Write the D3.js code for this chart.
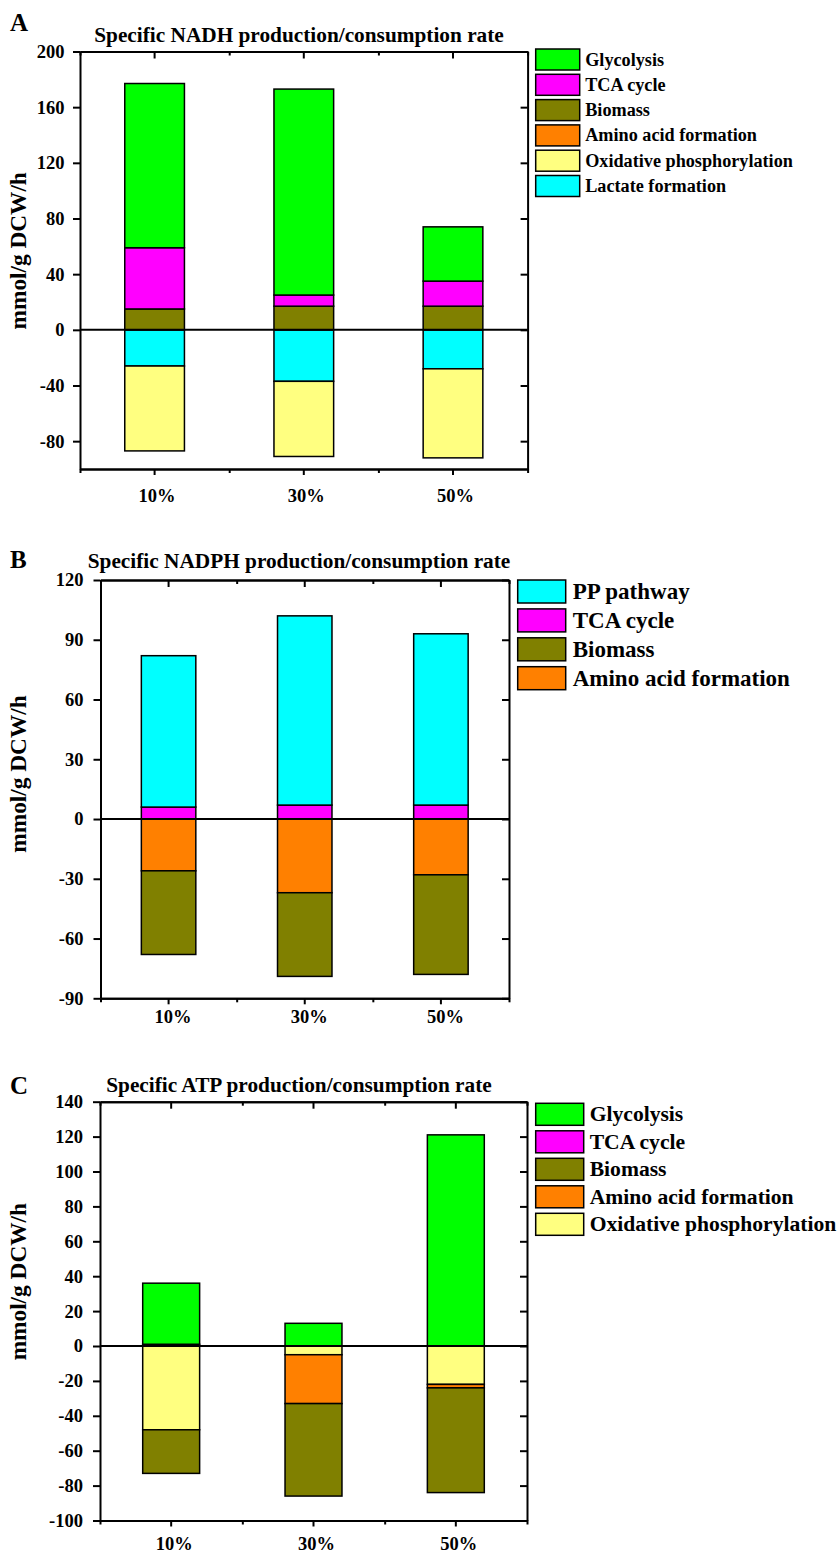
<!DOCTYPE html>
<html>
<head>
<meta charset="utf-8">
<script src="https://cdn.jsdelivr.net/npm/d3@7"></script>
<style>
  body { margin: 0; background: #fff; }
  svg text { font-family: "Liberation Serif", "Times New Roman", serif; font-weight: bold; fill: #000; }
</style>
</head>
<body>
<svg width="839" height="1555"></svg>
<script>
// categories on the x axis
const categories = ["10%", "30%", "50%"];

// Panel A - NADH
const nadhKeys = ["Glycolysis", "TCA cycle", "Biomass", "Amino acid formation", "Oxidative phosphorylation", "Lactate formation"];
const nadhGlycolysis = [118, 148, 39];
const nadhTCA = [44, 8, 18];
const nadhBiomass = [15, 17, 17];
const nadhAmino = [0, 0, 0];
const nadhOxPhos = [-61, -54, -64];
const nadhLactate = [-26, -37, -28];
const nadhTicks = [-80, -40, 0, 40, 80, 120, 160, 200];

// Panel B - NADPH
const nadphKeys = ["PP pathway", "TCA cycle", "Biomass", "Amino acid formation"];
const nadphPP = [76, 95, 86];
const nadphTCA = [6, 7, 7];
const nadphBiomass = [-42, -42, -50];
const nadphAmino = [-26, -37, -28];
const nadphTicks = [-90, -60, -30, 0, 30, 60, 90, 120];

// Panel C - ATP
const atpKeys = ["Glycolysis", "TCA cycle", "Biomass", "Amino acid formation", "Oxidative phosphorylation"];
const atpGlycolysis = [35, 13, 121];
const atpTCA = [1, 0, 0];
const atpBiomass = [-25, -53, -60];
const atpAmino = [0, -28, -2];
const atpOxPhos = [-48, -5, -22];
const atpTicks = [-100, -80, -60, -40, -20, 0, 20, 40, 60, 80, 100, 120, 140];

const colors = {
  "Glycolysis": "#00ff00",
  "TCA cycle": "#ff00ff",
  "Biomass": "#808000",
  "Amino acid formation": "#ff8000",
  "Oxidative phosphorylation": "#ffff80",
  "Lactate formation": "#00ffff",
  "PP pathway": "#00ffff"
};

let svg = d3.select("svg");

function makeRows(keys, series) {
  return categories.map((c, i) => {
    let row = { cat: c };
    keys.forEach((k, j) => row[k] = series[j][i]);
    return row;
  });
}

function drawPanel(p) {
  let x = d3.scaleBand().domain(categories).range([p.left, p.right]);
  let xb = d3.scaleLinear().domain([0, categories.length]).range([p.left, p.right]);
  let y = d3.scaleLinear().domain(p.yDomain).range([p.bottom, p.top]);

  let g = svg.append("g");

  // stacked bars, last legend entry sits next to zero
  let stack = d3.stack()
    .keys(p.keys.slice().reverse())
    .offset(d3.stackOffsetDiverging);
  let layers = stack(makeRows(p.keys, p.series));

  let barW = x.bandwidth() * 0.4;
  g.selectAll("g.layer")
    .data(layers)
    .enter().append("g")
    .attr("class", "layer")
    .attr("fill", d => colors[d.key])
    .selectAll("rect")
    .data(d => d.filter(s => s[1] !== s[0]))
    .enter().append("rect")
    .attr("x", d => x(d.data.cat) + (x.bandwidth() - barW) / 2)
    .attr("y", d => y(Math.max(d[0], d[1])))
    .attr("width", barW)
    .attr("height", d => Math.abs(y(d[0]) - y(d[1])))
    .attr("stroke", "#000")
    .attr("stroke-width", 1.5);

  // zero line
  g.append("line")
    .attr("x1", p.left).attr("x2", p.right)
    .attr("y1", y(0)).attr("y2", y(0))
    .attr("stroke", "#000").attr("stroke-width", 2);

  // left axis (plain hyphen for negatives)
  let left = g.append("g")
    .attr("transform", "translate(" + p.left + ",0)")
    .call(d3.axisLeft(y).tickValues(p.ticks).tickSize(7).tickSizeOuter(0)
      .tickPadding(p.yPad).tickFormat(d => String(d)));
  left.selectAll("text").style("font-size", "18.5px");

  // right frame with inner ticks
  g.append("g")
    .attr("transform", "translate(" + p.right + ",0)")
    .call(d3.axisLeft(y).tickValues(p.ticks).tickSize(7).tickSizeOuter(0).tickFormat(""));

  // top frame with inner ticks
  g.append("g")
    .attr("transform", "translate(0," + p.top + ")")
    .call(d3.axisBottom(x).tickSize(7).tickSizeOuter(0).tickFormat(""));
  g.append("g")
    .attr("transform", "translate(0," + p.top + ")")
    .call(d3.axisBottom(xb).tickValues([0, 1, 2, 3]).tickSize(4).tickSizeOuter(0).tickFormat(""));

  // bottom axis
  let bottom = g.append("g")
    .attr("transform", "translate(0," + p.bottom + ")")
    .call(d3.axisBottom(x).tickSize(6).tickSizeOuter(0).tickPadding(p.xPad));
  bottom.selectAll("text").style("font-size", "18.5px").attr("dx", p.xShift);
  g.append("g")
    .attr("transform", "translate(0," + p.bottom + ")")
    .call(d3.axisBottom(xb).tickValues([0, 1, 2, 3]).tickSize(4).tickSizeOuter(0).tickFormat(""));

  g.selectAll(".domain").attr("stroke-width", 2);
  g.selectAll(".tick line").attr("stroke-width", 2);

  // titles and labels
  g.append("text")
    .attr("x", 10).attr("y", p.letterY)
    .style("font-size", "25px")
    .text(p.letter);
  g.append("text")
    .attr("x", 299).attr("y", p.titleY)
    .attr("text-anchor", "middle")
    .style("font-size", "21.3px")
    .text(p.title);
  g.append("text")
    .attr("transform", "translate(25.5," + p.labelY + ") rotate(-90)")
    .attr("text-anchor", "middle")
    .style("font-size", "23.3px")
    .text("mmol/g DCW/h");

  // legend
  let lg = g.append("g")
    .selectAll("g")
    .data(p.keys)
    .enter().append("g")
    .attr("transform", (d, i) => "translate(" + p.legX + "," + (p.legY + i * p.legStep) + ")");
  lg.append("rect")
    .attr("width", p.swW).attr("height", p.swH)
    .attr("fill", d => colors[d])
    .attr("stroke", "#000").attr("stroke-width", 1.5);
  lg.append("text")
    .attr("x", p.swW + p.legGap)
    .attr("y", p.swH / 2 + p.legFont * 0.33)
    .style("font-size", p.legFont + "px")
    .text(d => d);
}

drawPanel({
  letter: "A", title: "Specific NADH production/consumption rate",
  keys: nadhKeys,
  series: [nadhGlycolysis, nadhTCA, nadhBiomass, nadhAmino, nadhOxPhos, nadhLactate],
  ticks: nadhTicks, yDomain: [-100, 200],
  left: 80, right: 527.6, top: 51.5, bottom: 469,
  yPad: 8.5, xPad: 13.6, xShift: 2.5,
  letterY: 30.7, titleY: 41.7, labelY: 250.8,
  legX: 535.7, legY: 49, legStep: 25.3, swW: 44, swH: 21, legGap: 5.5, legFont: 18.2
});

drawPanel({
  letter: "B", title: "Specific NADPH production/consumption rate",
  keys: nadphKeys,
  series: [nadphPP, nadphTCA, nadphBiomass, nadphAmino],
  ticks: nadphTicks, yDomain: [-90, 120],
  left: 100.5, right: 509, top: 580, bottom: 998.3,
  yPad: 10, xPad: 5.9, xShift: 4.5,
  letterY: 567.8, titleY: 567.8, labelY: 774,
  legX: 517.7, legY: 580, legStep: 28.9, swW: 48, swH: 23, legGap: 7, legFont: 23
});

drawPanel({
  letter: "C", title: "Specific ATP production/consumption rate",
  keys: atpKeys,
  series: [atpGlycolysis, atpTCA, atpBiomass, atpAmino, atpOxPhos],
  ticks: atpTicks, yDomain: [-100, 140],
  left: 100, right: 527, top: 1101.7, bottom: 1520.5,
  yPad: 10, xPad: 10, xShift: 3,
  letterY: 1094, titleY: 1091.7, labelY: 1281.7,
  legX: 535.7, legY: 1103.3, legStep: 27.5, swW: 48, swH: 22, legGap: 6, legFont: 21.6
});
</script>
</body>
</html>
